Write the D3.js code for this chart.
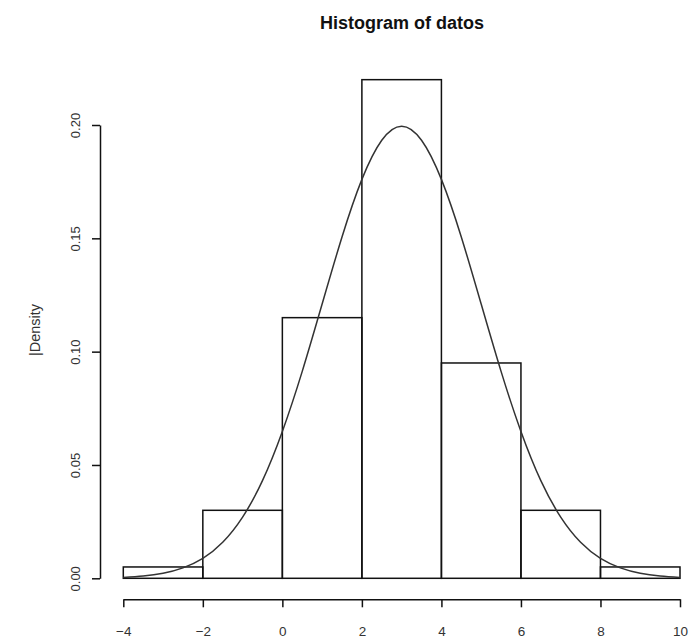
<!DOCTYPE html>
<html>
<head>
<meta charset="utf-8">
<script src="https://cdn.jsdelivr.net/npm/d3@7"></script>
<style>
  html, body { margin: 0; padding: 0; background: #fff; }
  svg { display: block; }
  text { font-family: "Liberation Sans", Arial, sans-serif; fill: #333; }
</style>
</head>
<body>
<div id="chart"></div>
<script>
// Histogram bins (break points) and their densities
const binStarts = [-4, -2, 0, 2, 4, 6, 8];
const binWidth = 2;
const densities = [0.005, 0.03, 0.115, 0.22, 0.095, 0.03, 0.005];

// Density curve sampled along x
const curveX = [-4, -3.5, -3, -2.5, -2, -1.5, -1, -0.5, 0, 0.5, 1, 1.5, 2, 2.5, 3,
                3.5, 4, 4.5, 5, 5.5, 6, 6.5, 7, 7.5, 8, 8.5, 9, 9.5, 10];
const curveY = [0.0004, 0.001, 0.0022, 0.0046, 0.0088, 0.0159, 0.027, 0.0431, 0.0648, 0.0913,
                0.121, 0.1506, 0.176, 0.1933, 0.1995, 0.1933, 0.176, 0.1506, 0.121, 0.0913,
                0.0648, 0.0431, 0.027, 0.0159, 0.0088, 0.0046, 0.0022, 0.001, 0.0004];

// Axis ticks
const xTicks = [-4, -2, 0, 2, 4, 6, 8, 10];
const yTicks = [0.00, 0.05, 0.10, 0.15, 0.20];
const yTickLabels = ["0.00", "0.05", "0.10", "0.15", "0.20"];

const W = 697, H = 641;
const svg = d3.select("#chart").append("svg").attr("width", W).attr("height", H);

const x = d3.scaleLinear().domain([-4, 10]).range([123.3, 680]);
const y = d3.scaleLinear().domain([0, 0.2]).range([578.3, 125]);

// Title
svg.append("text")
  .attr("x", 402).attr("y", 29)
  .attr("text-anchor", "middle")
  .style("font-weight", "bold").style("font-size", "18px").style("fill", "#111")
  .text("Histogram of datos");

// Y axis label
svg.append("text")
  .attr("transform", "translate(35,330) rotate(-90)")
  .attr("text-anchor", "middle").attr("dy", "0.35em")
  .style("font-size", "14.5px")
  .text("|Density");

// Bars
svg.append("g").selectAll("rect")
  .data(binStarts)
  .join("rect")
  .attr("x", (d) => x(d))
  .attr("width", (d) => x(d + binWidth) - x(d))
  .attr("y", (d, i) => y(densities[i]))
  .attr("height", (d, i) => y(0) - y(densities[i]))
  .attr("fill", "none")
  .attr("stroke", "#111")
  .attr("stroke-width", 1.5);

// Density curve
const pts = curveX.map((v, i) => [v, curveY[i]]);
svg.append("path")
  .datum(pts)
  .attr("d", d3.line().x((d) => x(d[0])).y((d) => y(d[1])).curve(d3.curveNatural))
  .attr("fill", "none")
  .attr("stroke", "#333")
  .attr("stroke-width", 1.5);

// X axis
const gx = svg.append("g")
  .attr("transform", "translate(0,599.3)")
  .call(d3.axisBottom(x).tickValues(xTicks).tickSize(8).tickSizeOuter(0).tickFormat(d3.format("d")));
gx.selectAll("text").attr("y", 27).style("font-size", "13.5px").style("font-family", "Liberation Sans, Arial, sans-serif");

// Y axis
const gy = svg.append("g")
  .attr("transform", "translate(100,0)")
  .call(d3.axisLeft(y).tickValues(yTicks).tickSize(8).tickSizeOuter(0)
    .tickFormat((d, i) => yTickLabels[i]));
gy.selectAll("text")
  .attr("x", 0).attr("dy", "0.35em")
  .attr("text-anchor", "middle")
  .attr("transform", "translate(-25,0) rotate(-90)")
  .style("font-size", "13px").style("font-family", "Liberation Sans, Arial, sans-serif");

[gx, gy].forEach((g) => {
  g.selectAll("path.domain").attr("stroke", "#111").attr("stroke-width", 1.5);
  g.selectAll(".tick line").attr("stroke", "#111").attr("stroke-width", 1.5);
  g.selectAll("text").style("fill", "#333");
});
</script>
</body>
</html>
